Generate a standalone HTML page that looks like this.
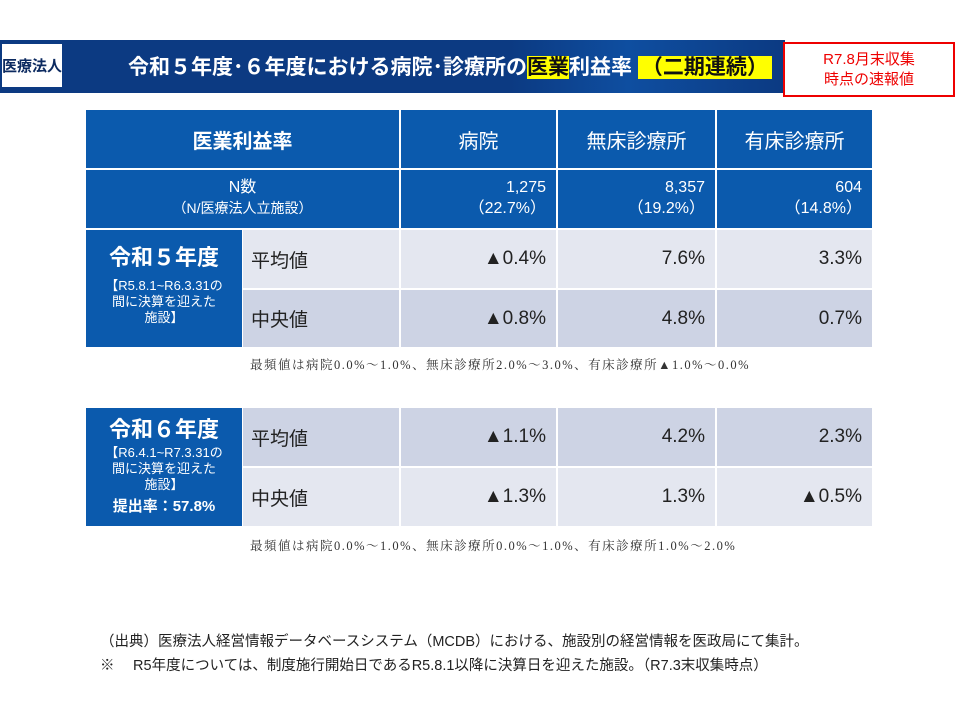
<!DOCTYPE html><html><head><meta charset="utf-8"><style>
body{margin:0;width:960px;height:720px;background:#fff;position:relative;font-family:"Liberation Sans","Noto Sans CJK JP",sans-serif;overflow:hidden}
.a{position:absolute;box-sizing:border-box}
.hd{background:#0b5aad;color:#fff;font-size:20px;display:flex;align-items:center;justify-content:center}
.c{display:flex;align-items:center;font-size:19px;color:#222}
.r{justify-content:flex-end;padding-right:10px}
.L{background:#e4e7f0}.D{background:#cdd3e4}
.n{background:#0b5aad;color:#fff;font-size:16px;text-align:right;padding-right:10px;line-height:21px;padding-top:7px}
.note{font-family:"Liberation Serif","Noto Serif CJK SC",serif;font-size:12.5px;color:#333;white-space:nowrap;letter-spacing:1.5px}
</style></head><body>
<div class="a" style="left:0;top:40px;width:785px;height:53px;background:linear-gradient(90deg,#0c3a82 0%,#0c3a82 65%,#0e4ea0 80%,#0c3a82 100%)"></div>
<div class="a" style="left:2px;top:44px;width:60px;height:43px;background:#fff;color:#0c2a60;font-weight:bold;font-size:15px;display:flex;align-items:center;justify-content:center;white-space:nowrap">医療法人</div>
<div class="a" style="left:128px;top:51px;color:#fff;font-weight:bold;font-size:21px;white-space:nowrap;letter-spacing:0px">令和５年度･６年度における病院･診療所の<span style="background:#ffff00;color:#111">医業</span>利益率 <span style="background:#ffff00;color:#111;padding:0 4px">（二期連続）</span></div>
<div class="a" style="left:783px;top:42px;width:172px;height:55px;border:2px solid #e00;background:#fff;color:#e00;font-size:15px;text-align:center;line-height:20px;padding-top:6px">R7.8月末収集<br>時点の速報値</div>

<div class="a hd" style="left:86px;top:110px;width:313px;height:58px;font-weight:bold">医業利益率</div>
<div class="a hd" style="left:401px;top:110px;width:155px;height:58px">病院</div>
<div class="a hd" style="left:558px;top:110px;width:157px;height:58px">無床診療所</div>
<div class="a hd" style="left:717px;top:110px;width:155px;height:58px">有床診療所</div>

<div class="a n" style="left:86px;top:170px;width:313px;height:58px;text-align:center;padding-right:0">N数<br><span style="font-size:14px">（N/医療法人立施設）</span></div>
<div class="a n" style="left:401px;top:170px;width:155px;height:58px">1,275<br>（22.7%）</div>
<div class="a n" style="left:558px;top:170px;width:157px;height:58px">8,357<br>（19.2%）</div>
<div class="a n" style="left:717px;top:170px;width:155px;height:58px">604<br>（14.8%）</div>

<div class="a" style="left:86px;top:230px;width:156px;height:117px;background:#0b5aad;color:#fff;text-align:center">
<div style="font-size:22px;font-weight:bold;margin-top:10px">令和５年度</div>
<div style="font-size:13px;line-height:16px;margin-top:6px">【R5.8.1~R6.3.31の<br>間に決算を迎えた<br>施設】</div></div>
<div class="a c L" style="left:243px;top:230px;width:156px;height:58px;padding-left:8px">平均値</div>
<div class="a c L r" style="left:401px;top:230px;width:155px;height:58px">▲0.4%</div>
<div class="a c L r" style="left:558px;top:230px;width:157px;height:58px">7.6%</div>
<div class="a c L r" style="left:717px;top:230px;width:155px;height:58px">3.3%</div>
<div class="a c D" style="left:243px;top:290px;width:156px;height:57px;padding-left:8px">中央値</div>
<div class="a c D r" style="left:401px;top:290px;width:155px;height:57px">▲0.8%</div>
<div class="a c D r" style="left:558px;top:290px;width:157px;height:57px">4.8%</div>
<div class="a c D r" style="left:717px;top:290px;width:155px;height:57px">0.7%</div>
<div class="a note" style="left:250px;top:355px">最頻値は病院0.0%～1.0%、無床診療所2.0%～3.0%、有床診療所▲1.0%～0.0%</div>

<div class="a" style="left:86px;top:408px;width:156px;height:118px;background:#0b5aad;color:#fff;text-align:center">
<div style="font-size:22px;font-weight:bold;margin-top:4px">令和６年度</div>
<div style="font-size:13px;line-height:16px;margin-top:1px">【R6.4.1~R7.3.31の<br>間に決算を迎えた<br>施設】</div>
<div style="font-size:15px;font-weight:bold;margin-top:2px">提出率：57.8%</div></div>
<div class="a c D" style="left:243px;top:408px;width:156px;height:58px;padding-left:8px">平均値</div>
<div class="a c D r" style="left:401px;top:408px;width:155px;height:58px">▲1.1%</div>
<div class="a c D r" style="left:558px;top:408px;width:157px;height:58px">4.2%</div>
<div class="a c D r" style="left:717px;top:408px;width:155px;height:58px">2.3%</div>
<div class="a c L" style="left:243px;top:468px;width:156px;height:58px;padding-left:8px">中央値</div>
<div class="a c L r" style="left:401px;top:468px;width:155px;height:58px">▲1.3%</div>
<div class="a c L r" style="left:558px;top:468px;width:157px;height:58px">1.3%</div>
<div class="a c L r" style="left:717px;top:468px;width:155px;height:58px">▲0.5%</div>
<div class="a note" style="left:250px;top:536px">最頻値は病院0.0%～1.0%、無床診療所0.0%～1.0%、有床診療所1.0%～2.0%</div>

<div class="a" style="left:100px;top:630px;font-size:14.5px;color:#222;line-height:24px;white-space:nowrap">（出典）医療法人経営情報データベースシステム（MCDB）における、施設別の経営情報を医政局にて集計。<br>※　 R5年度については、制度施行開始日であるR5.8.1以降に決算日を迎えた施設。（R7.3末収集時点）</div>
</body></html>
